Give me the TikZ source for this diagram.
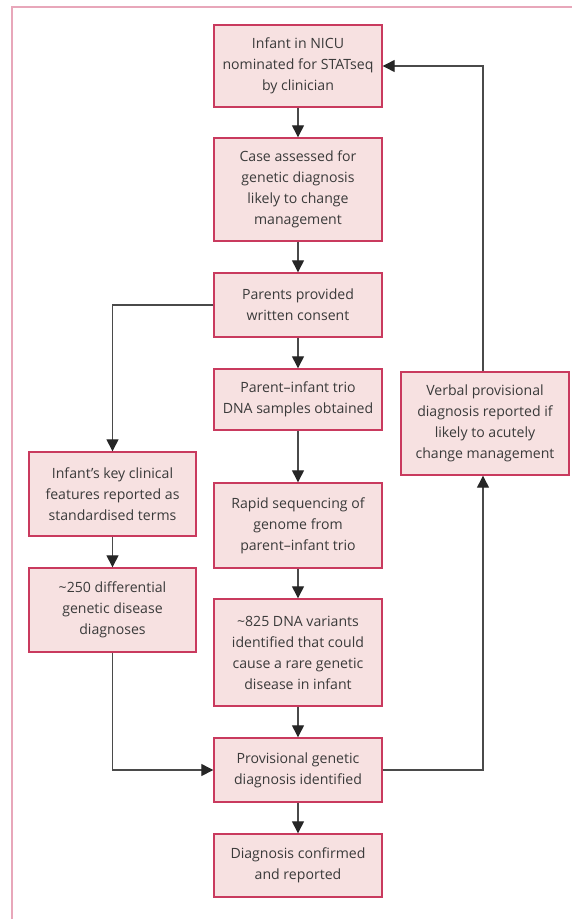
\documentclass[tikz,border=0pt]{standalone}
\usepackage{fontspec}
\setmainfont{Open Sans}
\usetikzlibrary{arrows.meta}
\definecolor{boxfill}{HTML}{F7E1E1}
\definecolor{boxdraw}{HTML}{C93A5E}
\definecolor{frame}{HTML}{E8A7BA}
\definecolor{txt}{HTML}{3A3A3A}
\definecolor{arr}{HTML}{4A4A4A}
\tikzset{
  flowbox/.style={draw=boxdraw, fill=boxfill, line width=1.4pt, text=txt,
    align=center, inner sep=0pt, font=\fontsize{14.1}{21}\selectfont},
  conn/.style={draw=arr, line width=1.3pt, -{Triangle[length=12pt,width=12pt,fill=black!85,color=black!85]}},
  plainconn/.style={draw=arr, line width=1.3pt}
}
\begin{document}
\begin{tikzpicture}[x=1pt,y=-1pt]
\useasboundingbox (0,0) rectangle (572,919);
\begin{scope}
\clip (0,0) rectangle (572,919);
\draw[frame, line width=2pt] (12,7) rectangle (590,940);
\end{scope}
% center column
\node[flowbox, minimum width=168pt, minimum height=82pt] (b1) at (298,66) {Infant in NICU\\nominated for STATseq\\by clinician};
\node[flowbox, minimum width=168pt, minimum height=103pt] (b2) at (298,189.5) {Case assessed for\\genetic diagnosis\\likely to change\\management};
\node[flowbox, minimum width=168pt, minimum height=64pt] (b3) at (298,305) {Parents provided\\written consent};
\node[flowbox, minimum width=168pt, minimum height=61pt] (b4) at (298,399.5) {Parent–infant trio\\DNA samples obtained};
\node[flowbox, minimum width=168pt, minimum height=85pt] (b5) at (298,525.5) {Rapid sequencing of\\genome from\\parent–infant trio};
\node[flowbox, minimum width=168pt, minimum height=107pt] (b6) at (298,652.5) {\textasciitilde825 DNA variants\\identified that could\\cause a rare genetic\\disease in infant};
\node[flowbox, minimum width=168pt, minimum height=64pt] (b7) at (298,770) {Provisional genetic\\diagnosis identified};
\node[flowbox, minimum width=168pt, minimum height=63pt] (b8) at (298,865.5) {Diagnosis confirmed\\and reported};
% left column
\node[flowbox, minimum width=167pt, minimum height=84pt] (l1) at (112.5,494) {Infant’s key clinical\\features reported as\\standardised terms};
\node[flowbox, minimum width=167pt, minimum height=84pt] (l2) at (112.5,610) {\textasciitilde250 differential\\genetic disease\\diagnoses};
% right column
\node[flowbox, minimum width=168pt, minimum height=103pt] (r1) at (485,423.5) {Verbal provisional\\diagnosis reported if\\likely to acutely\\change management};
% connectors
\draw[conn] (b1) -- (b2);
\draw[conn] (b2) -- (b3);
\draw[conn] (b3) -- (b4);
\draw[conn] (b4) -- (b5);
\draw[conn] (b5) -- (b6);
\draw[conn] (b6) -- (b7);
\draw[conn] (b7) -- (b8);
\draw[conn] (l1) -- (l2);
\draw[conn] (b3.west) -| (l1.north);
\draw[conn] (l2.south) |- (b7.west);
\coordinate (rc) at (483,0);
\draw[conn] (b7.east) -| (r1.south -| rc);
\draw[conn] (r1.north -| rc) |- (b1.east);
\end{tikzpicture}
\end{document}
